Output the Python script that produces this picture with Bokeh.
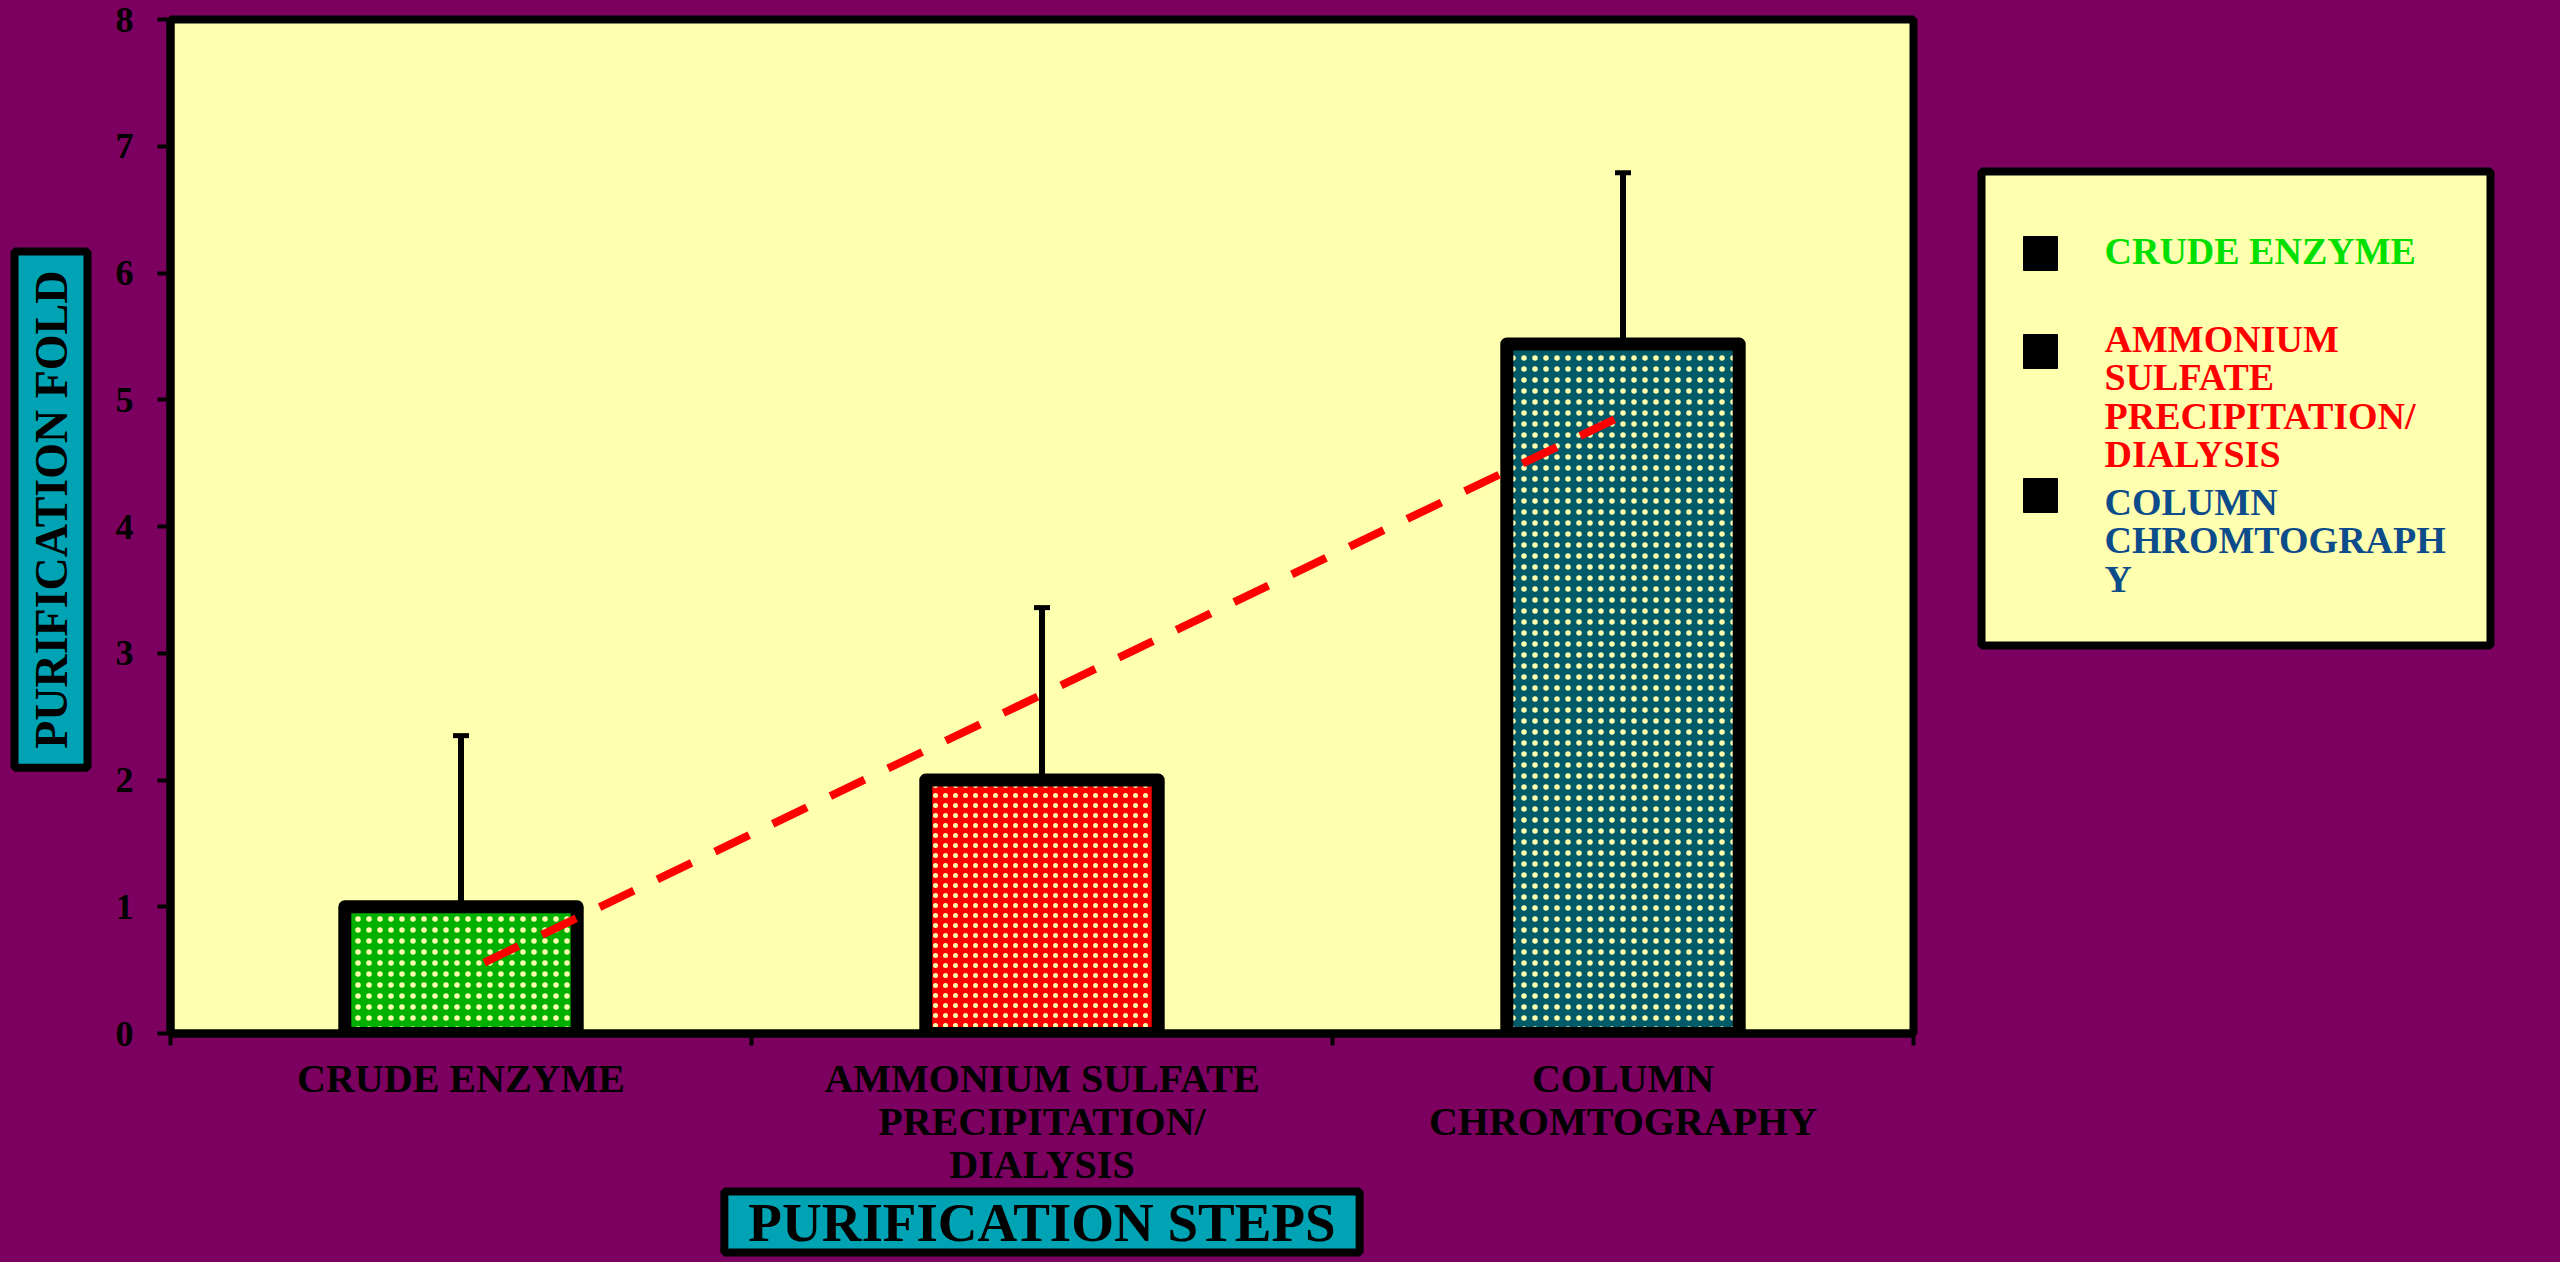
import math
from bokeh.plotting import figure
from bokeh.models import ColumnDataSource, Range1d, FixedTicker, Whisker, TeeHead, Title
from bokeh.layouts import row
from bokeh.core.properties import value
from bokeh.embed import file_html
from bokeh.resources import INLINE

# ---------------- data ----------------
categories = ["CRUDE ENZYME", "AMMONIUM SULFATE PRECIPITATION/ DIALYSIS", "COLUMN CHROMTOGRAPHY"]
axis_labels = ["CRUDE ENZYME", "AMMONIUM SULFATE\nPRECIPITATION/\nDIALYSIS", "COLUMN\nCHROMTOGRAPHY"]
legend_labels = ["CRUDE ENZYME", "AMMONIUM\nSULFATE\nPRECIPITATION/\nDIALYSIS", "COLUMN\nCHROMTOGRAPH\nY"]
fold = [1.0, 2.0, 5.44]
fold_err = [1.35, 1.36, 1.35]
trend_x = [0.54, 2.51]
trend_y = [0.56, 4.90]
y_ticks = [0, 1, 2, 3, 4, 5, 6, 7, 8]
y_title = "PURIFICATION FOLD"
x_title = "PURIFICATION STEPS"

# ---------------- style ----------------
PURPLE = "#7B005F"
CREAM = "#FFFFB0"
CYAN = "#00A3B3"
FONT = "Liberation Serif"
bar_fill = ["#00B000", "#FF0000", "#005A68"]
bar_hatch_color = [CREAM, CREAM, CREAM]
bar_hatch_scale = [11, 10, 11]
bar_hatch_weight = [1, 6, 1]
legend_text_colors = ["#00E000", "#FF0000", "#0D4C8A"]

n = len(categories)
xc = [i + 0.5 for i in range(n)]
src = ColumnDataSource(dict(
    x=xc, top=fold, upper=[f + e for f, e in zip(fold, fold_err)],
    fill=bar_fill, hcolor=bar_hatch_color, hscale=bar_hatch_scale, hweight=bar_hatch_weight,
    hatch=["dot"] * n,
))

p = figure(width=1950, height=1262, x_range=Range1d(0, n), y_range=Range1d(0, 8),
           output_backend="svg", toolbar_location=None, title=None,
           min_border_left=170, min_border_right=37, min_border_top=19, min_border_bottom=229)
p.border_fill_color = PURPLE
p.background_fill_color = CREAM
p.outline_line_color = "black"
p.outline_line_width = 8
p.grid.visible = False

ya = p.yaxis[0]
ya.ticker = FixedTicker(ticks=y_ticks)
ya.major_label_text_font = FONT
ya.major_label_text_font_style = "bold"
ya.major_label_text_font_size = "36px"
ya.major_label_text_color = "black"
ya.major_tick_out = 13
ya.major_tick_in = 0
ya.major_tick_line_width = 4
ya.major_tick_line_color = "black"
ya.minor_tick_line_color = None
ya.axis_line_width = 8
ya.axis_line_color = "black"
ya.major_label_standoff = 24

xa = p.xaxis[0]
xa.ticker = FixedTicker(ticks=xc, minor_ticks=list(range(n + 1)))
xa.major_label_overrides = {x: lab for x, lab in zip(xc, axis_labels)}
xa.major_tick_line_color = None
xa.major_tick_out = 0
xa.major_tick_in = 0
xa.minor_tick_out = 12
xa.minor_tick_in = 0
xa.minor_tick_line_width = 4
xa.minor_tick_line_color = "black"
xa.axis_line_width = 8
xa.axis_line_color = "black"
xa.major_label_standoff = 10
xa.major_label_text_font = FONT
xa.major_label_text_font_style = "bold"
xa.major_label_text_font_size = "40px"
xa.major_label_text_color = "black"
xa.major_label_text_line_height = 0.96

p.vbar(x="x", top="top", bottom=0, width=0.4, source=src,
       fill_color="fill", line_color="black", line_width=13, line_join="round",
       hatch_pattern="hatch", hatch_color="hcolor", hatch_scale="hscale", hatch_weight="hweight")

p.add_layout(Whisker(base="x", lower="top", upper="upper", source=src, dimension="height",
                     line_color="black", line_width=6, lower_head=None,
                     upper_head=TeeHead(size=16, line_width=5, line_color="black")))

p.line(trend_x, trend_y, line_color="#FF0000", line_width=8, line_dash="38 26")

p.add_layout(Title(text=y_title, align="right", offset=232, vertical_align="top",
                   text_font=FONT, text_font_style="bold",
                   text_font_size="46px", text_color="black",
                   background_fill_color=CYAN, border_line_color="black", border_line_width=8,
                   padding=dict(left=19, right=19, top=11, bottom=11), standoff=14), "left")
p.add_layout(Title(text=x_title, align="center", text_font=FONT, text_font_style="bold",
                   text_font_size="55px", text_color="black",
                   background_fill_color=CYAN, border_line_color="black", border_line_width=8,
                   padding=dict(left=24, right=24, top=0, bottom=0), standoff=0), "below")

# ---------------- legend panel ----------------
# its frame is aligned with the main plot frame; coordinates below are page pixels
leg = figure(width=610, height=1262, x_range=Range1d(1950, 2560), y_range=Range1d(1033, 19),
             output_backend="svg", toolbar_location=None, title=None,
             x_axis_location=None, y_axis_location=None,
             min_border_left=0, min_border_right=0, min_border_top=19, min_border_bottom=229)
leg.border_fill_color = PURPLE
leg.background_fill_color = PURPLE
leg.outline_line_color = None
leg.grid.visible = False

leg.quad(left=[1981], right=[2490], top=[171], bottom=[645],
         fill_color=CREAM, line_color="black", line_width=8)

sq_x = 2040
sq_px = [253, 351, 495]
baseline_px = [250, 338, 501]
line_step = 38.5
text_x = 2104

leg.scatter(x=[sq_x] * n, y=sq_px, marker="square", size=34,
            fill_color="black", line_color="black")

tx, ty, tt, tc = [], [], [], []
for i, lab in enumerate(legend_labels):
    for j, line in enumerate(lab.split("\n")):
        tx.append(text_x)
        ty.append(baseline_px[i] + j * line_step)
        tt.append(line)
        tc.append(legend_text_colors[i])
leg.text(x=tx, y=ty, text=tt, text_color=tc, text_font=value(FONT), text_font_style="bold",
         text_font_size="38px", text_baseline="alphabetic", text_align="left")

layout = row(p, leg)
html = file_html(layout, INLINE)
html = html.replace("</head>", "<style>html, body { background: %s; }</style></head>" % PURPLE, 1)
open("out.html", "w").write(html)
